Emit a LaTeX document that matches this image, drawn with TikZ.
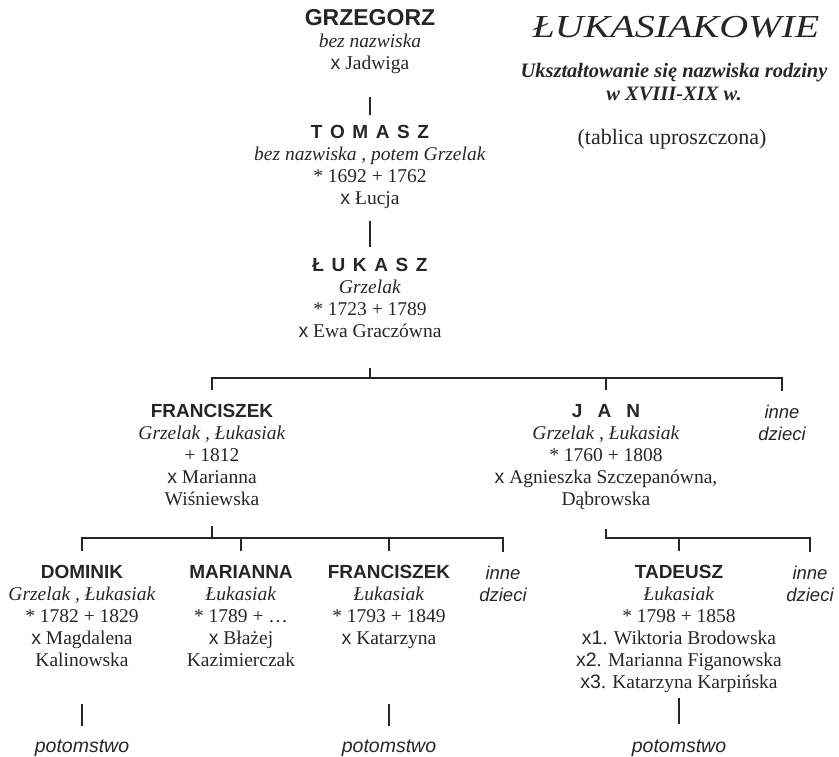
\documentclass[tikz,border=0pt]{standalone}
\usepackage{fontspec}
\setmainfont{Liberation Serif}
\setsansfont{Liberation Sans}
\usepackage{graphicx}
\colorlet{tusz}{black!85}
\newcommand\imie[1]{{\sffamily\bfseries\fontsize{19}{22}\selectfont #1}}
\newcommand\odst{\hspace{0.4em}}
\newcommand\slub[1]{\textsf{x#1}}

\begin{document}
\begin{tikzpicture}[x=1pt,y=-1pt,
        osoba/.style={align=center,inner sep=0pt,anchor=north,text=tusz,
                font=\fontsize{19.5}{22}\selectfont},
        inne/.style={align=center,inner sep=0pt,anchor=north,text=tusz,
                font=\sffamily\itshape\fontsize{18.5}{22}\selectfont},
        potomstwo/.style={inner sep=0pt,anchor=base,text=tusz,
                font=\sffamily\itshape\fontsize{19.5}{22}\selectfont},
        linia/.style={draw=tusz,line width=1.4pt}]
        \useasboundingbox (0,0) rectangle (839,756);

        \node[anchor=base,inner sep=0pt,text=tusz,font=\itshape\fontsize{32}{32}\selectfont]
                (tytul) at (676,37) {\scalebox{1.25}[1]{ŁUKASIAKOWIE}};
        \node[align=center,anchor=north,inner sep=0pt,text=tusz,
                font=\bfseries\itshape\fontsize{20.5}{23}\selectfont]
                (podtytul) at (674,63) {Ukształtowanie się nazwiska rodziny\\ w XVIII-XIX w.};
        \node[anchor=base,inner sep=0pt,text=tusz,font=\fontsize{22}{22}\selectfont]
                (uwaga) at (672,144) {(tablica uproszczona)};

        \node[osoba] (grzegorz) at (370,9) {\imie{\fontsize{23}{22}\selectfont GRZEGORZ}\\
                \textit{bez nazwiska}\\ \slub{} Jadwiga};
        \node[osoba] (tomasz) at (370,125) {\imie{T\odst O\odst M\odst A\odst S\odst Z}\\
                \textit{bez nazwiska , potem Grzelak}\\ * 1692 + 1762\\ \slub{} Łucja};
        \node[osoba] (lukasz) at (370,258) {\imie{Ł\odst U\odst K\odst A\odst S\odst Z}\\
                \textit{Grzelak}\\ * 1723 + 1789\\ \slub{} Ewa Graczówna};

        \node[osoba] (franciszek) at (212,404) {\imie{FRANCISZEK}\\
                \textit{Grzelak , Łukasiak}\\ + 1812\\ \slub{} Marianna\\ Wiśniewska};
        \node[osoba] (jan) at (606,404) {\imie{J\hspace{0.8em}A\hspace{0.8em}N}\\
                \textit{Grzelak , Łukasiak}\\ * 1760 + 1808\\ \slub{} Agnieszka Szczepanówna,\\ Dąbrowska};
        \node[inne] (inne1) at (782,405) {inne\\ dzieci};

        \node[osoba] (dominik) at (82,565) {\imie{DOMINIK}\\
                \textit{Grzelak , Łukasiak}\\ * 1782 + 1829\\ \slub{} Magdalena\\ Kalinowska};
        \node[osoba] (marianna) at (241,565) {\imie{MARIANNA}\\
                \textit{Łukasiak}\\ * 1789 + …\\ \slub{} Błażej\\ Kazimierczak};
        \node[osoba] (franciszek2) at (389,565) {\imie{FRANCISZEK}\\
                \textit{Łukasiak}\\ * 1793 + 1849\\ \slub{} Katarzyna};
        \node[inne] (inne2) at (503,566) {inne\\ dzieci};
        \node[osoba] (tadeusz) at (679,565) {\imie{TADEUSZ}\\
                \textit{Łukasiak}\\ * 1798 + 1858\\ \slub{1}. Wiktoria Brodowska\\
                \slub{2}. Marianna Figanowska\\ \slub{3}. Katarzyna Karpińska};
        \node[inne] (inne3) at (810,566) {inne\\ dzieci};

        \node[potomstwo] (potomstwo1) at (82,752) {potomstwo};
        \node[potomstwo] (potomstwo2) at (389,752) {potomstwo};
        \node[potomstwo] (potomstwo3) at (679,752) {potomstwo};

        \coordinate (b3) at (370,378);
        \coordinate (b4) at (212,538);
        \coordinate (b5) at (679,538);

        \draw[linia,shorten <=23pt,shorten >=10pt] (grzegorz.south) -- (tomasz.north);
        \draw[linia,shorten <=12pt,shorten >=11pt] (tomasz.south) -- (lukasz.north);

        \draw[linia,shorten <=30pt] (lukasz.south) -- (b3);
        \draw[linia,shorten <=14pt,shorten >=14pt] (franciszek.north) |- (b3) -| (inne1.north);
        \draw[linia,shorten >=14pt] (b3 -| jan.north) -- (jan.north);

        \draw[linia,shorten <=20pt] (franciszek.south) -- (b4);
        \draw[linia,shorten <=14pt,shorten >=14pt] (dominik.north) |- (b4) -| (inne2.north);
        \draw[linia,shorten >=14pt] (b4 -| marianna.north) -- (marianna.north);
        \draw[linia,shorten >=14pt] (b4 -| franciszek2.north) -- (franciszek2.north);

        \draw[linia,shorten <=20pt,shorten >=14pt] (jan.south) |- (b5) -| (inne3.north);
        \draw[linia,shorten >=14pt] (b5) -- (tadeusz.north);

        \draw[linia,shorten <=37pt,shorten >=13pt] (dominik.south) -- (potomstwo1.north);
        \draw[linia,shorten <=55pt,shorten >=13pt] (franciszek2.south) -- (potomstwo2.north);
        \draw[linia,shorten <=5pt,shorten >=15pt] (tadeusz.south) -- (potomstwo3.north);
\end{tikzpicture}
\end{document}
